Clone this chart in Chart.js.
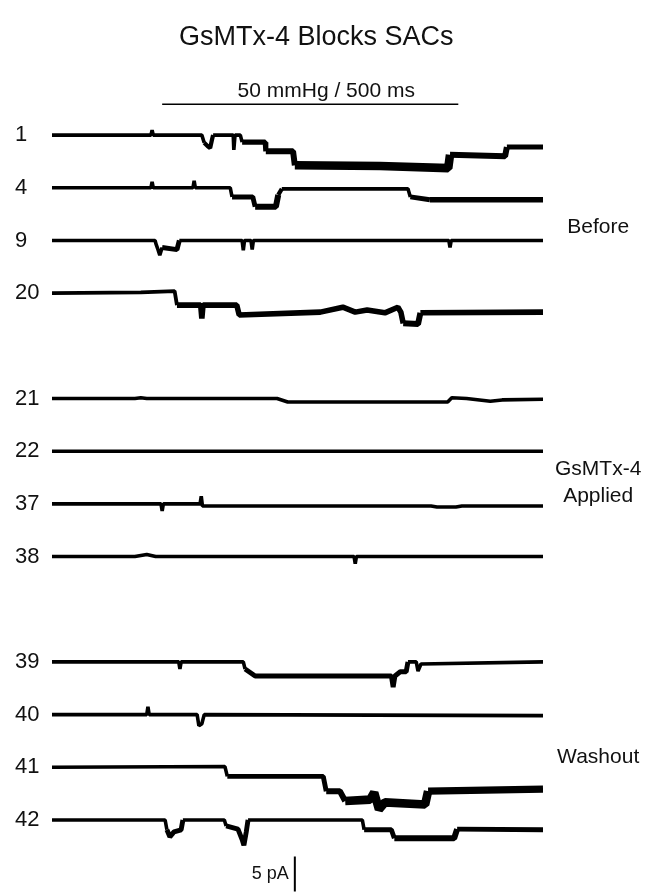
<!DOCTYPE html>
<html>
<head>
<meta charset="utf-8">
<title>GsMTx-4 Blocks SACs</title>
<script src="https://cdn.jsdelivr.net/npm/chart.js@4.4.1/dist/chart.umd.min.js"></script>
<style>
  html, body { margin: 0; padding: 0; background: #fff; }
  #traces { display: block; }
</style>
</head>
<body>
<canvas id="traces" width="648" height="893"></canvas>
<script>
// sweeps: [time ms, current pA (relative to the sweep's own baseline), p-p noise pA from here on]
const traceNames = ["1", "4", "9", "20", "21", "22", "37", "38", "39", "40", "41", "42"];
const traceRows = [0, 1, 2, 3, 5, 6, 7, 8, 10, 11, 12, 13];
const groupNames = [["Before"], ["GsMTx-4", "Applied"], ["Washout"]];
const groupRows = [1.75, 6.6, 11.8];

const figTitle = "GsMTx-4 Blocks SACs";
const pulseLabel = "50 mmHg / 500 ms";
const pulseStart = 186;   // ms
const pulseEnd = 686;     // ms
const scaleBarLabel = "5 pA";
const scaleBarPA = 5;
const scaleBarTime = 410; // ms

const trace1 = [[0, 0, 0.55], [167, 0], [169, 0.7], [171, 0], [253, 0], [257, -1.1, 0.7], [263, -1.6], [267, -1.85],
    [270, -0.7], [272, 0, 0.55], [306, 0], [307, -2.1], [309, 0], [318, 0], [321, -1.0, 0.9], [360, -1.0],
    [361, -2.3, 1.1], [407, -2.3], [410, -4.3, 1.7], [554, -4.4], [669, -4.7], [672, -2.8, 1.1], [765, -3.0],
    [768, -1.7, 0.9], [829, -1.7]];
const trace4 = [[0, 0, 0.55], [167, 0], [169, 0.85], [171, 0], [238, 0], [240, 1.0], [242, 0], [301, 0],
    [304, -1.3, 0.85], [339, -1.3], [343, -2.7, 1.1], [378, -2.7], [382, -1.0, 0.7], [388, -0.15, 0.55],
    [601, -0.15], [605, -1.3, 0.85], [638, -1.7, 1.0], [829, -1.7]];
const trace9 = [[0, 0, 0.55], [174, 0], [176, -0.6], [179, -1.3], [182, -2.1], [186, -1.0, 0.85], [211, -1.3],
    [215, 0, 0.55], [321, 0], [323, -1.4], [325, 0], [336, 0], [338, -1.3], [340, 0], [670, 0], [672, -1.0],
    [674, 0], [829, 0]];
const trace20 = [[0, 0, 0.6], [150, 0.1], [207, 0.3], [211, -1.7, 1.0], [251, -1.7], [253, -3.6], [255, -1.7],
    [312, -1.7], [316, -3.1, 1.0], [453, -2.7], [491, -2.0], [512, -2.7], [532, -2.4], [562, -2.8], [584, -2.0],
    [589, -2.7], [593, -4.3, 1.1], [618, -4.4], [622, -2.8, 1.0], [829, -2.7]];
const trace21 = [[0, 0, 0.55], [140, 0], [150, 0.1], [160, 0], [380, 0], [398, -0.5], [668, -0.5], [675, 0.1],
    [700, 0], [740, -0.4], [760, -0.2], [829, -0.1]];
const trace22 = [[0, 0, 0.55], [829, 0]];
const trace37 = [[0, 0, 0.55], [184, 0], [186, -1.0], [188, 0], [250, 0], [252, 1.1], [254, -0.3], [640, -0.3],
    [650, -0.45], [682, -0.45], [692, -0.3], [829, -0.3]];
const trace38 = [[0, 0, 0.55], [140, 0], [160, 0.3], [175, 0], [510, 0], [512, -1.0], [514, 0], [829, 0]];
const trace39 = [[0, 0, 0.55], [214, 0], [216, -1.0], [218, 0], [323, 0], [326, -1.0, 0.85], [343, -2.0],
    [573, -2.0], [576, -3.6], [579, -2.0], [588, -1.4], [598, -1.4], [601, 0, 0.55], [615, 0], [618, -1.3],
    [623, -0.3], [829, 0]];
const trace40 = [[0, 0, 0.55], [160, 0], [162, 1.1], [164, 0], [245, 0], [248, -1.6], [253, -1.3], [257, 0],
    [829, -0.15]];
const trace41 = [[0, 0, 0.55], [292, 0.1], [296, -1.3, 0.85], [458, -1.3], [463, -3.4, 1.1], [486, -3.4],
    [495, -4.8, 1.7], [537, -4.6], [544, -3.6], [552, -6.0], [562, -5.0], [630, -5.3], [635, -3.4, 1.4],
    [829, -3.1]];
const trace42 = [[0, 0, 0.55], [191, 0], [194, -1.4, 0.85], [199, -2.4], [206, -1.7], [218, -1.4], [221, 0, 0.55],
    [291, 0], [294, -0.85, 0.85], [314, -1.3], [321, -2.8], [324, -3.6], [328, -1.7], [331, 0, 0.55], [524, 0],
    [527, -1.4, 0.85], [573, -1.4], [578, -2.6, 1.1], [679, -2.6], [684, -1.3, 0.85], [829, -1.4]];

const traces = [trace1, trace4, trace9, trace20, trace21, trace22, trace37, trace38, trace39, trace40, trace41, trace42];

// layout of the stacked sweeps
const rowGap = 7.5;      // pA between sweeps
const pulseLevel = 4.4;  // pA, height of the pressure bar above sweep 1
const yTop = 5;
const yBottom = -107.9;
const FONT = '"Liberation Sans", Arial, Helvetica, sans-serif';
const INK = "#111";

function buildSweep(points, row) {
    let noise = points[0][2];
    return points.map(function (p) {
        if (p[2] !== undefined) noise = p[2];
        return {x: p[0], y: p[1] - row * rowGap, n: noise};
    });
}

const datasets = traces.map(function (pts, i) {
    return {
        label: "Sweep " + traceNames[i],
        data: buildSweep(pts, traceRows[i]),
        borderColor: "#000",
        borderWidth: 3,
        borderJoinStyle: "bevel",
        pointRadius: 0,
        tension: 0,
        segment: {
            // noise band drawn as line thickness
            borderWidth: function (ctx) {
                const ds = ctx.chart.data.datasets[ctx.datasetIndex];
                const pt = ds.data[ctx.p0DataIndex];
                const ys = ctx.chart.scales.y;
                const ppa = Math.abs(ys.getPixelForValue(0) - ys.getPixelForValue(1));
                return 1.2 + pt.n * ppa * 0.62;
            }
        }
    };
});

// pressure step bar
datasets.push({
    label: "pressure",
    data: [{x: pulseStart, y: pulseLevel}, {x: pulseEnd, y: pulseLevel}],
    borderColor: "#000",
    borderWidth: 1.6,
    pointRadius: 0
});

// vertical current scale bar
const scaleBarTop = yBottom + 0.2 + scaleBarPA;
datasets.push({
    label: "scale",
    data: [{x: scaleBarTime, y: scaleBarTop}, {x: scaleBarTime, y: scaleBarTop - scaleBarPA}],
    borderColor: "#000",
    borderWidth: 2,
    pointRadius: 0
});

const figureText = {
    id: "figureText",
    afterDraw(chart) {
        const ctx = chart.ctx;
        const xs = chart.scales.x, ys = chart.scales.y;
        const barL = xs.getPixelForValue(pulseStart);
        const barR = xs.getPixelForValue(pulseEnd);
        const barY = ys.getPixelForValue(pulseLevel);
        const mid = (barL + barR) / 2;
        ctx.save();
        ctx.fillStyle = INK;
        ctx.textAlign = "center";
        ctx.textBaseline = "alphabetic";
        ctx.font = "27px " + FONT;
        ctx.fillText(figTitle, mid + 6, 45);
        ctx.font = "21px " + FONT;
        ctx.fillText(pulseLabel, mid + 16, barY - 7);

        const sx = xs.getPixelForValue(scaleBarTime);
        const sy = ys.getPixelForValue(scaleBarTop - scaleBarPA / 2);
        ctx.textAlign = "right";
        ctx.textBaseline = "middle";
        ctx.font = "18px " + FONT;
        ctx.fillText(scaleBarLabel, sx - 6, sy);
        ctx.restore();
    }
};

function noLabelPadding(axis, width) {
    axis.width = width;
    axis.paddingTop = 0;
    axis.paddingBottom = 0;
}

new Chart(document.getElementById("traces"), {
    type: "line",
    data: {datasets: datasets},
    plugins: [figureText],
    options: {
        responsive: false,
        animation: false,
        events: [],
        layout: {padding: {top: 100, left: 15, right: 0, bottom: 0}},
        plugins: {
            legend: {display: false},
            tooltip: {enabled: false}
        },
        scales: {
            x: {
                type: "linear",
                min: 0,
                max: 829,
                display: false
            },
            y: {
                position: "left",
                min: yBottom,
                max: yTop,
                grid: {display: false, drawTicks: false},
                border: {display: false},
                afterBuildTicks: function (axis) {
                    axis.ticks = traceRows.map(function (r) { return {value: -r * rowGap}; });
                },
                afterFit: function (axis) { noLabelPadding(axis, 37); },
                ticks: {
                    autoSkip: false,
                    crossAlign: "far",
                    padding: 0,
                    color: INK,
                    font: {family: FONT, size: 22},
                    callback: function (value, index) { return traceNames[index]; }
                }
            },
            y2: {
                position: "right",
                min: yBottom,
                max: yTop,
                grid: {display: false, drawTicks: false},
                border: {display: false},
                afterBuildTicks: function (axis) {
                    axis.ticks = groupRows.map(function (r) { return {value: -r * rowGap}; });
                },
                afterFit: function (axis) { noLabelPadding(axis, 105); },
                ticks: {
                    autoSkip: false,
                    crossAlign: "center",
                    padding: 12,
                    color: INK,
                    font: {family: FONT, size: 21, lineHeight: 1.3},
                    callback: function (value, index) { return groupNames[index]; }
                }
            }
        }
    }
});
</script>
</body>
</html>
